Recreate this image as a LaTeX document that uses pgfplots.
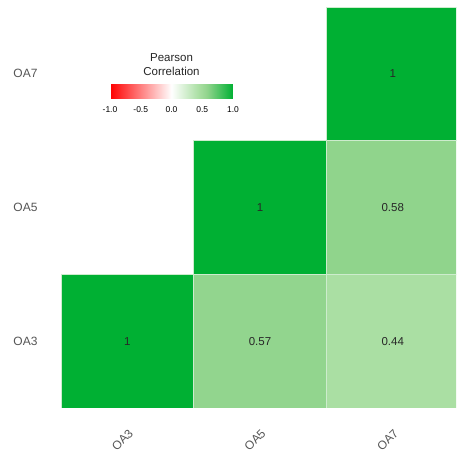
\documentclass[border=0pt]{standalone}
\usepackage{fontspec}
\setmainfont{Liberation Sans}
\usepackage{pgfplots}
\pgfplotsset{compat=1.18}
\usepackage{pgfplotstable}
\definecolor{tickgray}{RGB}{85,85,85}
\definecolor{celltext}{RGB}{40,40,40}
\definecolor{edgecol}{RGB}{205,236,205}

\pgfplotstableread{
x y c
-0.5 -0.5 1
0.5 -0.5 1
0.5 0.5 1
-0.5 0.5 1
0.5 -0.5 0.57
1.5 -0.5 0.57
1.5 0.5 0.57
0.5 0.5 0.57
1.5 -0.5 0.44
2.5 -0.5 0.44
2.5 0.5 0.44
1.5 0.5 0.44
0.5 0.5 1
1.5 0.5 1
1.5 1.5 1
0.5 1.5 1
1.5 0.5 0.58
2.5 0.5 0.58
2.5 1.5 0.58
1.5 1.5 0.58
1.5 1.5 1
2.5 1.5 1
2.5 2.5 1
1.5 2.5 1
}\cells

\pgfplotstableread{
x y lab
0 0 1
1 0 0.57
2 0 0.44
1 1 1
2 1 0.58
2 2 1
}\labels

\begin{document}
\begin{tikzpicture}
\begin{axis}[
  scale only axis,
  width=395pt, height=401pt,
  xmin=-0.5, xmax=2.477, ymin=-0.5, ymax=2.5,
  axis line style={draw=none},
  tick style={draw=none},
  xtick={0,1,2}, ytick={0,1,2},
  xticklabels={OA3,OA5,OA7},
  yticklabels={OA3,OA5,OA7},
  ticklabel style={font=\fontsize{12}{14}\selectfont, text=tickgray},
  xticklabel style={yshift=-32pt, xshift=-5pt, rotate=45, anchor=center},
  yticklabel style={anchor=east, xshift=-20pt},
  colormap={corr}{rgb255(0cm)=(255,0,0) rgb255(1cm)=(255,255,255) rgb255(1.44cm)=(170,223,163) rgb255(1.58cm)=(144,212,140) rgb255(2cm)=(0,176,51)},
  point meta min=-1, point meta max=1,
  colorbar horizontal,
  colorbar style={
    at={(parent axis.north west)}, anchor=north west,
    xshift=49pt, yshift=-66pt,
    scale only axis,
    width=123pt, height=17pt,
    axis line style={draw=none},
    tick style={draw=none},
    xtick={-1,-0.5,0,0.5,1},
    xticklabel pos=lower,
    xticklabel style={font=\fontsize{8.5}{10}\selectfont, text=black, yshift=-4pt,
      /pgf/number format/.cd, fixed, fixed zerofill, precision=1, assume math mode=true},
    title={Pearson\\Correlation},
    title style={align=center, font=\fontsize{11.5}{14}\selectfont, text=black!85, yshift=-4pt},
  },
]
\addplot[patch, patch type=rectangle, shader=faceted, faceted color=edgecol, line width=0.6pt, point meta=explicit] table[x=x, y=y, meta=c] {\cells};
\addplot[draw=none, mark=none, nodes near coords, nodes near coords align={center},
  point meta=explicit symbolic,
  every node near coord/.append style={font=\fontsize{11.5}{13}\selectfont, text=celltext, anchor=center}]
  table[x=x, y=y, meta=lab] {\labels};
\end{axis}
\pgfresetboundingbox
\useasboundingbox ([xshift=-61pt, yshift=-49pt]current axis.south west) rectangle ([yshift=7pt]current axis.north east);
\end{tikzpicture}
\end{document}
